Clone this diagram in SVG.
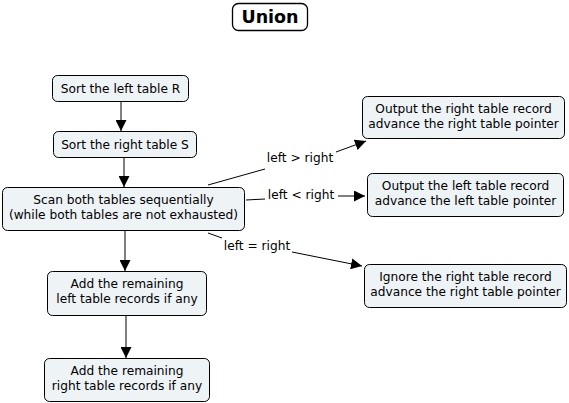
<svg xmlns="http://www.w3.org/2000/svg" width="569" height="403" viewBox="0 0 569 403">
<defs>
<style>
.n rect{fill:#eef3f6;stroke:#000;stroke-width:1}
.n text,.l{font-family:"DejaVu Sans",Verdana,sans-serif;font-size:12.2px;fill:#000;text-anchor:middle}
.c line,.c polyline{stroke:#000;stroke-width:1;fill:none}
.t rect{fill:#fff;stroke:#000;stroke-width:1.3}
.t text{font-family:"DejaVu Sans",Verdana,sans-serif;font-size:17.5px;font-weight:bold;text-anchor:middle}
</style>
<marker id="ah" viewBox="0 0 10 10" refX="10" refY="5" markerWidth="11" markerHeight="11" markerUnits="userSpaceOnUse" orient="auto"><path d="M0,0L10,5L0,10z" fill="#000"/></marker>
</defs>
<rect width="569" height="403" fill="#fff"/>
<g id="title" class="t"><rect x="232.5" y="3.5" width="75" height="27" rx="6"/><text x="270" y="23">Union</text></g>
<g class="c">
<line x1="121" y1="101" x2="121" y2="131" marker-end="url(#ah)"/>
<line x1="124" y1="157" x2="124" y2="187" marker-end="url(#ah)"/>
<line x1="125" y1="230" x2="125" y2="271" marker-end="url(#ah)"/>
<line x1="126" y1="315" x2="126" y2="358" marker-end="url(#ah)"/>
<line x1="208" y1="185" x2="265" y2="169"/>
<line x1="336" y1="152" x2="366" y2="141" marker-end="url(#ah)"/>
<line x1="246" y1="200" x2="265" y2="199"/>
<line x1="338" y1="196" x2="365" y2="196" marker-end="url(#ah)"/>
<line x1="208" y1="233" x2="222" y2="238"/>
<line x1="292" y1="252" x2="362" y2="266" marker-end="url(#ah)"/>
<text class="l" x="300" y="162">left &gt; right</text>
<text class="l" x="301" y="199">left &lt; right</text>
<text class="l" x="257" y="250">left = right</text>
</g>
<g id="sortR" class="n"><rect x="52.5" y="75.5" width="136" height="26" rx="5"/><text x="120.5" y="92.5">Sort the left table R</text></g>
<g id="sortS" class="n"><rect x="53.5" y="131.5" width="143" height="26" rx="5"/><text x="125" y="148.5">Sort the right table S</text></g>
<g id="scan" class="n"><rect x="2.5" y="187.5" width="242" height="43" rx="5"/><text x="123.5" y="204">Scan both tables sequentially</text><text x="123.5" y="219">(while both tables are not exhausted)</text></g>
<g id="addL" class="n"><rect x="47.5" y="271.5" width="159" height="44" rx="5"/><text x="127" y="288">Add the remaining</text><text x="127" y="303">left table records if any</text></g>
<g id="addR" class="n"><rect x="44.5" y="358.5" width="165" height="43" rx="5"/><text x="127" y="375">Add the remaining</text><text x="127" y="390">right table records if any</text></g>
<g id="outR" class="n"><rect x="362.5" y="96.5" width="202" height="42" rx="5"/><text x="463.5" y="113">Output the right table record</text><text x="463.5" y="128">advance the right table pointer</text></g>
<g id="outL" class="n"><rect x="367.5" y="173.5" width="196" height="43" rx="5"/><text x="465.5" y="190">Output the left table record</text><text x="465.5" y="205">advance the left table pointer</text></g>
<g id="ign" class="n"><rect x="364.5" y="264.5" width="202" height="43" rx="5"/><text x="465.5" y="281">Ignore the right table record</text><text x="465.5" y="296">advance the right table pointer</text></g>
</svg>
